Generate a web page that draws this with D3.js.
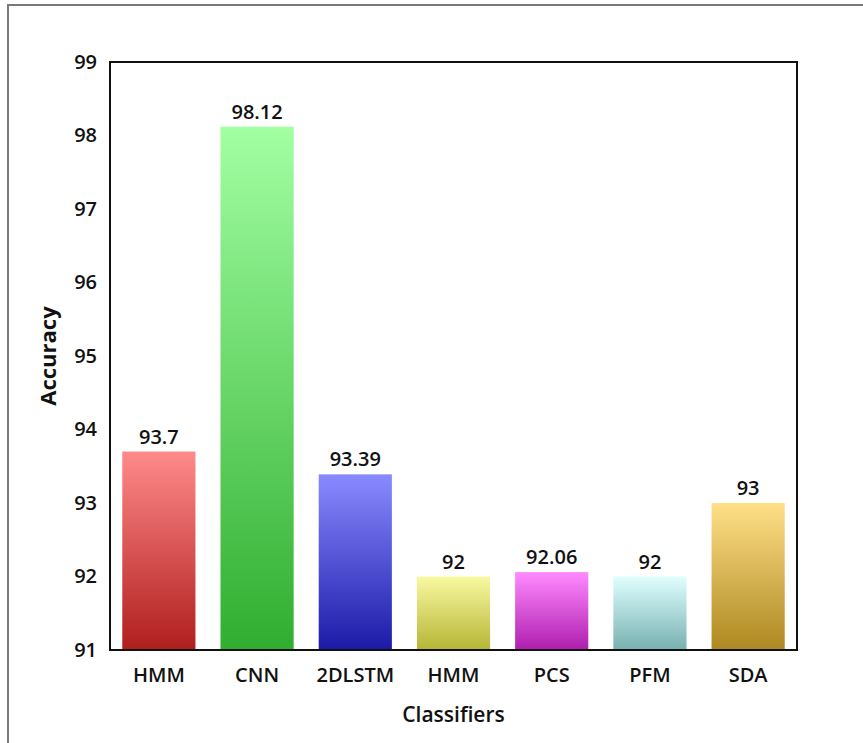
<!DOCTYPE html>
<html>

<head>
  <meta charset="utf8">
  <script src="https://d3js.org/d3.v7.min.js"></script>
  <style>
    body { margin: 0; background: #fff; }
    text { font-family: "Open Sans", sans-serif; fill: #111; }
  </style>
</head>

<body>
  <svg id="chart" width="863" height="743"></svg>

  <script>
    var classifiers = ['HMM', 'CNN', '2DLSTM', 'HMM', 'PCS', 'PFM', 'SDA'];
    var accuracy = [93.7, 98.12, 93.39, 92, 92.06, 92, 93];
    var labels = ['93.7', '98.12', '93.39', '92', '92.06', '92', '93'];
    var topColors = ['#ff8a8a', '#a2ffa2', '#8a8aff', '#f9f9a2', '#ff8aff', '#e0ffff', '#ffe088'];
    var bottomColors = ['#b01e1e', '#30ae30', '#1a1aa8', '#b5b535', '#ae1eae', '#78b0b0', '#ae8820'];
    var yTicks = [91, 92, 93, 94, 95, 96, 97, 98, 99];

    var chart = d3.select('#chart');
    var margin = { top: 62, left: 110, right: 66, bottom: 93 };
    var width = 863 - margin.left - margin.right;
    var height = 743 - margin.top - margin.bottom;

    // outer frame of the figure
    chart.append('rect')
      .attr('x', 8).attr('y', 5)
      .attr('width', 900).attr('height', 800)
      .attr('fill', 'none')
      .attr('stroke', '#7a7a7a')
      .attr('stroke-width', 2);

    var x = d3.scaleBand()
      .domain(d3.range(classifiers.length))
      .range([0, width])
      .paddingInner(0.255)
      .paddingOuter(0.125);

    var y = d3.scaleLinear()
      .domain([91, 99])
      .range([height, 0]);

    var defs = chart.append('defs');
    topColors.forEach(function (c, i) {
      var g = defs.append('linearGradient')
        .attr('id', 'grad' + i)
        .attr('x1', 0).attr('y1', 0).attr('x2', 0).attr('y2', 1);
      g.append('stop').attr('offset', '0%').attr('stop-color', c);
      g.append('stop').attr('offset', '100%').attr('stop-color', bottomColors[i]);
    });

    var group = chart.append('g')
      .attr('transform', 'translate(' + margin.left + ',' + margin.top + ')');

    group.selectAll('rect.bar')
      .data(accuracy)
      .enter()
      .append('rect')
      .attr('class', 'bar')
      .attr('x', (d, i) => x(i))
      .attr('y', (d) => y(d))
      .attr('width', x.bandwidth())
      .attr('height', (d) => height - y(d))
      .attr('fill', (d, i) => 'url(#grad' + i + ')');

    group.selectAll('text.value')
      .data(accuracy)
      .enter()
      .append('text')
      .attr('class', 'value')
      .attr('x', (d, i) => x(i) + x.bandwidth() / 2)
      .attr('y', (d) => y(d) - 8)
      .attr('text-anchor', 'middle')
      .style('font-size', '20px')
      .style('font-weight', 600)
      .text((d, i) => labels[i]);

    // plot frame
    group.append('rect')
      .attr('width', width).attr('height', height)
      .attr('fill', 'none')
      .attr('stroke', '#111')
      .attr('stroke-width', 2);

    var yAxis = group.append('g')
      .call(d3.axisLeft(y).tickValues(yTicks).tickSize(0).tickPadding(13).tickFormat(d3.format('d')));
    yAxis.select('.domain').remove();
    yAxis.selectAll('text')
      .style('font-size', '20px')
      .style('font-weight', 600)
      .attr('fill', '#111');

    var xAxis = group.append('g')
      .attr('transform', 'translate(0,' + height + ')')
      .call(d3.axisBottom(x).tickSize(0).tickPadding(18).tickFormat((i) => classifiers[i]));
    xAxis.select('.domain').remove();
    xAxis.selectAll('text')
      .style('font-size', '20px')
      .style('font-weight', 600)
      .attr('fill', '#111');

    group.append('text')
      .attr('x', width / 2)
      .attr('y', height + 72)
      .attr('text-anchor', 'middle')
      .style('font-size', '21px')
      .style('font-weight', 600)
      .text('Classifiers');

    group.append('text')
      .attr('transform', 'rotate(-90)')
      .attr('x', -height / 2)
      .attr('y', -54)
      .attr('text-anchor', 'middle')
      .style('font-size', '22px')
      .style('font-weight', 700)
      .text('Accuracy');
  </script>
</body>

</html>
